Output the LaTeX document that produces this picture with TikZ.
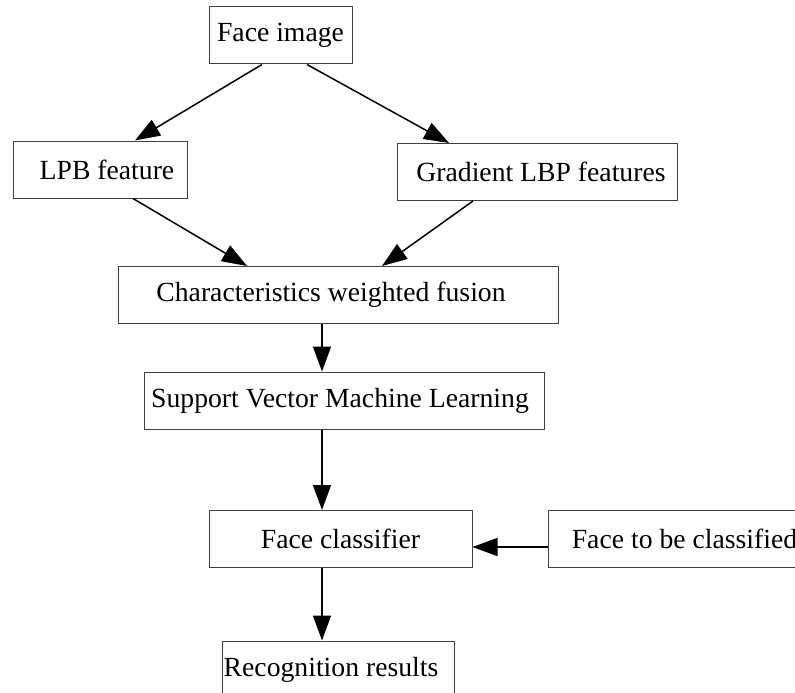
\documentclass[tikz,border=0pt]{standalone}
\usepackage{fontspec}
\setmainfont{Liberation Serif}
\usetikzlibrary{arrows.meta}

\begin{document}
\begin{tikzpicture}[x=1pt,y=-1pt]

      \useasboundingbox (0,0) rectangle (795,693);

      \begin{scope}[every node/.style={rectangle, draw=black!75, line width=1pt, inner sep=0pt,
          minimum height=57pt, font=\fontsize{27.7}{33}\selectfont}]
        \node[minimum width=143pt] (1) at (280.5,35.5)  {Face image};
        \node[minimum width=174pt] (2) at (100,169.5)   {\hspace*{14pt}LPB feature};
        \node[minimum width=280pt] (3) at (537,172)     {\hspace*{8pt}Gradient LBP features};
        \node[minimum width=440pt] (4) at (338,295)     {Characteristics weighted fusion\hspace*{14pt}};
        \node[minimum width=400pt] (5) at (344,400.5)   {Support Vector Machine Learning\hspace*{8pt}};
        \node[minimum width=263pt] (6) at (340.5,539)   {Face classifier};
        \node[minimum width=273pt] (7) at (684.5,539)   {Face to be classified};
        \node[minimum width=232pt] (8) at (338,669.5)   {Recognition results\hspace*{14pt}};
      \end{scope}

      \begin{scope}[every edge/.style={draw, line width=1.5pt, -{Triangle[length=25pt,width=18pt]}}]
        \path ([xshift=-18.5pt]1.south) edge ([xshift=35pt]2.north);
        \path ([xshift=26.5pt]1.south)  edge ([xshift=-88pt]3.north);
        \path ([xshift=33pt]2.south)    edge ([xshift=-91pt]4.north);
        \path ([xshift=-64pt]3.south)   edge ([xshift=44pt]4.north);
        \path ([xshift=-16pt]4.south)   edge ([xshift=-22pt]5.north);
        \path ([xshift=-22pt]5.south)   edge ([xshift=-18.5pt]6.north);
        \path ([yshift=-8pt]7.west)     edge ([yshift=-8pt]6.east);
        \path ([xshift=-18.5pt]6.south) edge ([xshift=-16pt]8.north);
      \end{scope}

    \end{tikzpicture}
\end{document}
